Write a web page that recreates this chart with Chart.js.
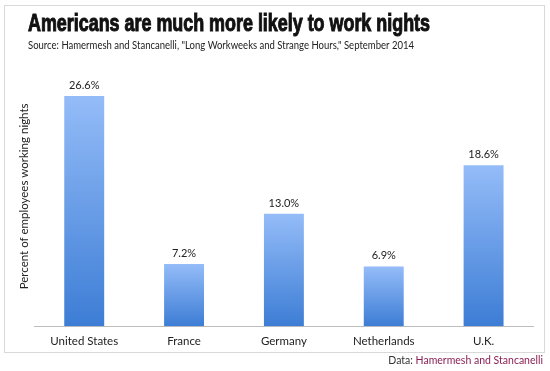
<!DOCTYPE html>
<html>
<head>
<meta charset="utf-8">
<script src="https://cdn.jsdelivr.net/npm/chart.js@4"></script>
<style>
  body { margin: 0; background: #fff; }
  #wrap { width: 550px; height: 371px; }
</style>
</head>
<body>
<div id="wrap"><canvas id="grafico" width="550" height="371"></canvas></div>
<script>
var countries = ['United States', 'France', 'Germany', 'Netherlands', 'U.K.'];
var nightShare = [26.6, 7.2, 13.0, 6.9, 18.6];
var valueLabels = ['26.6%', '7.2%', '13.0%', '6.9%', '18.6%'];

var titleText = 'Americans are much more likely to work nights';
var subText = 'Source: Hamermesh and Stancanelli, "Long Workweeks and Strange Hours," September 2014';

// frame, headline, labels over the bars and credit line
var extras = {
    id: 'extras',
    afterDraw: function(chart) {
        var ctx = chart.ctx;
        ctx.save();
        ctx.strokeStyle = '#d9d9d9';
        ctx.lineWidth = 1;
        ctx.strokeRect(4.5, 5.5, 540, 347);

        ctx.fillStyle = '#111';
        ctx.strokeStyle = '#111';
        ctx.lineWidth = 1;
        ctx.textBaseline = 'alphabetic';
        ctx.font = 'bold 23px "Liberation Sans Narrow", "Liberation Sans", sans-serif';
        ctx.fillText(titleText, 28, 31, 402);
        ctx.strokeText(titleText, 28, 31, 402);

        ctx.fillStyle = '#222';
        ctx.font = '11px Lato, sans-serif';
        ctx.fillText(subText, 28, 49, 386);

        // value labels
        var meta = chart.getDatasetMeta(0);
        ctx.font = '11px Lato, sans-serif';
        ctx.fillStyle = '#222';
        ctx.textAlign = 'center';
        meta.data.forEach(function(bar, i) {
            ctx.fillText(valueLabels[i], bar.x, bar.y - 7);
        });

        // credit
        ctx.textAlign = 'right';
        ctx.font = '10.5px Lato, sans-serif';
        var src = 'Hamermesh and Stancanelli';
        ctx.fillStyle = '#8a1f55';
        ctx.fillText(src, 543, 364);
        var w = ctx.measureText(src).width;
        ctx.fillStyle = '#333';
        ctx.fillText('Data: ', 543 - w, 364);
        ctx.restore();
    }
};

function barFill(context) {
    var chart = context.chart;
    if (!chart.chartArea) return '#5f98e6';
    var y = chart.scales.y;
    var top = y.getPixelForValue(context.raw);
    var bottom = y.getPixelForValue(0);
    var g = chart.ctx.createLinearGradient(0, top, 0, bottom);
    g.addColorStop(0, '#94bcf8');
    g.addColorStop(1, '#3d7dd5');
    return g;
}

new Chart(document.getElementById('grafico'), {
    type: 'bar',
    data: {
        labels: countries,
        datasets: [{
            data: nightShare,
            backgroundColor: barFill,
            borderWidth: 0,
            barPercentage: 0.4,
            categoryPercentage: 1
        }]
    },
    options: {
        responsive: false,
        animation: false,
        layout: { padding: { top: 66.6, left: 13.5, right: 16.5, bottom: 15 } },
        plugins: {
            legend: { display: false },
            tooltip: { enabled: false }
        },
        scales: {
            x: {
                grid: { display: false, drawTicks: false },
                border: { display: true, color: '#bdbdbd', width: 1 },
                ticks: {
                    color: '#222',
                    font: { family: 'Lato', size: 11.5 },
                    padding: 8
                }
            },
            y: {
                min: 0,
                max: 30,
                grid: { display: false, drawTicks: false },
                border: { display: false },
                ticks: { display: false },
                title: {
                    display: true,
                    text: 'Percent of employees working nights',
                    color: '#222',
                    font: { family: 'Lato', size: 11.5 },
                    padding: { top: 4, bottom: 3 }
                }
            }
        }
    },
    plugins: [extras]
});
</script>
</body>
</html>
